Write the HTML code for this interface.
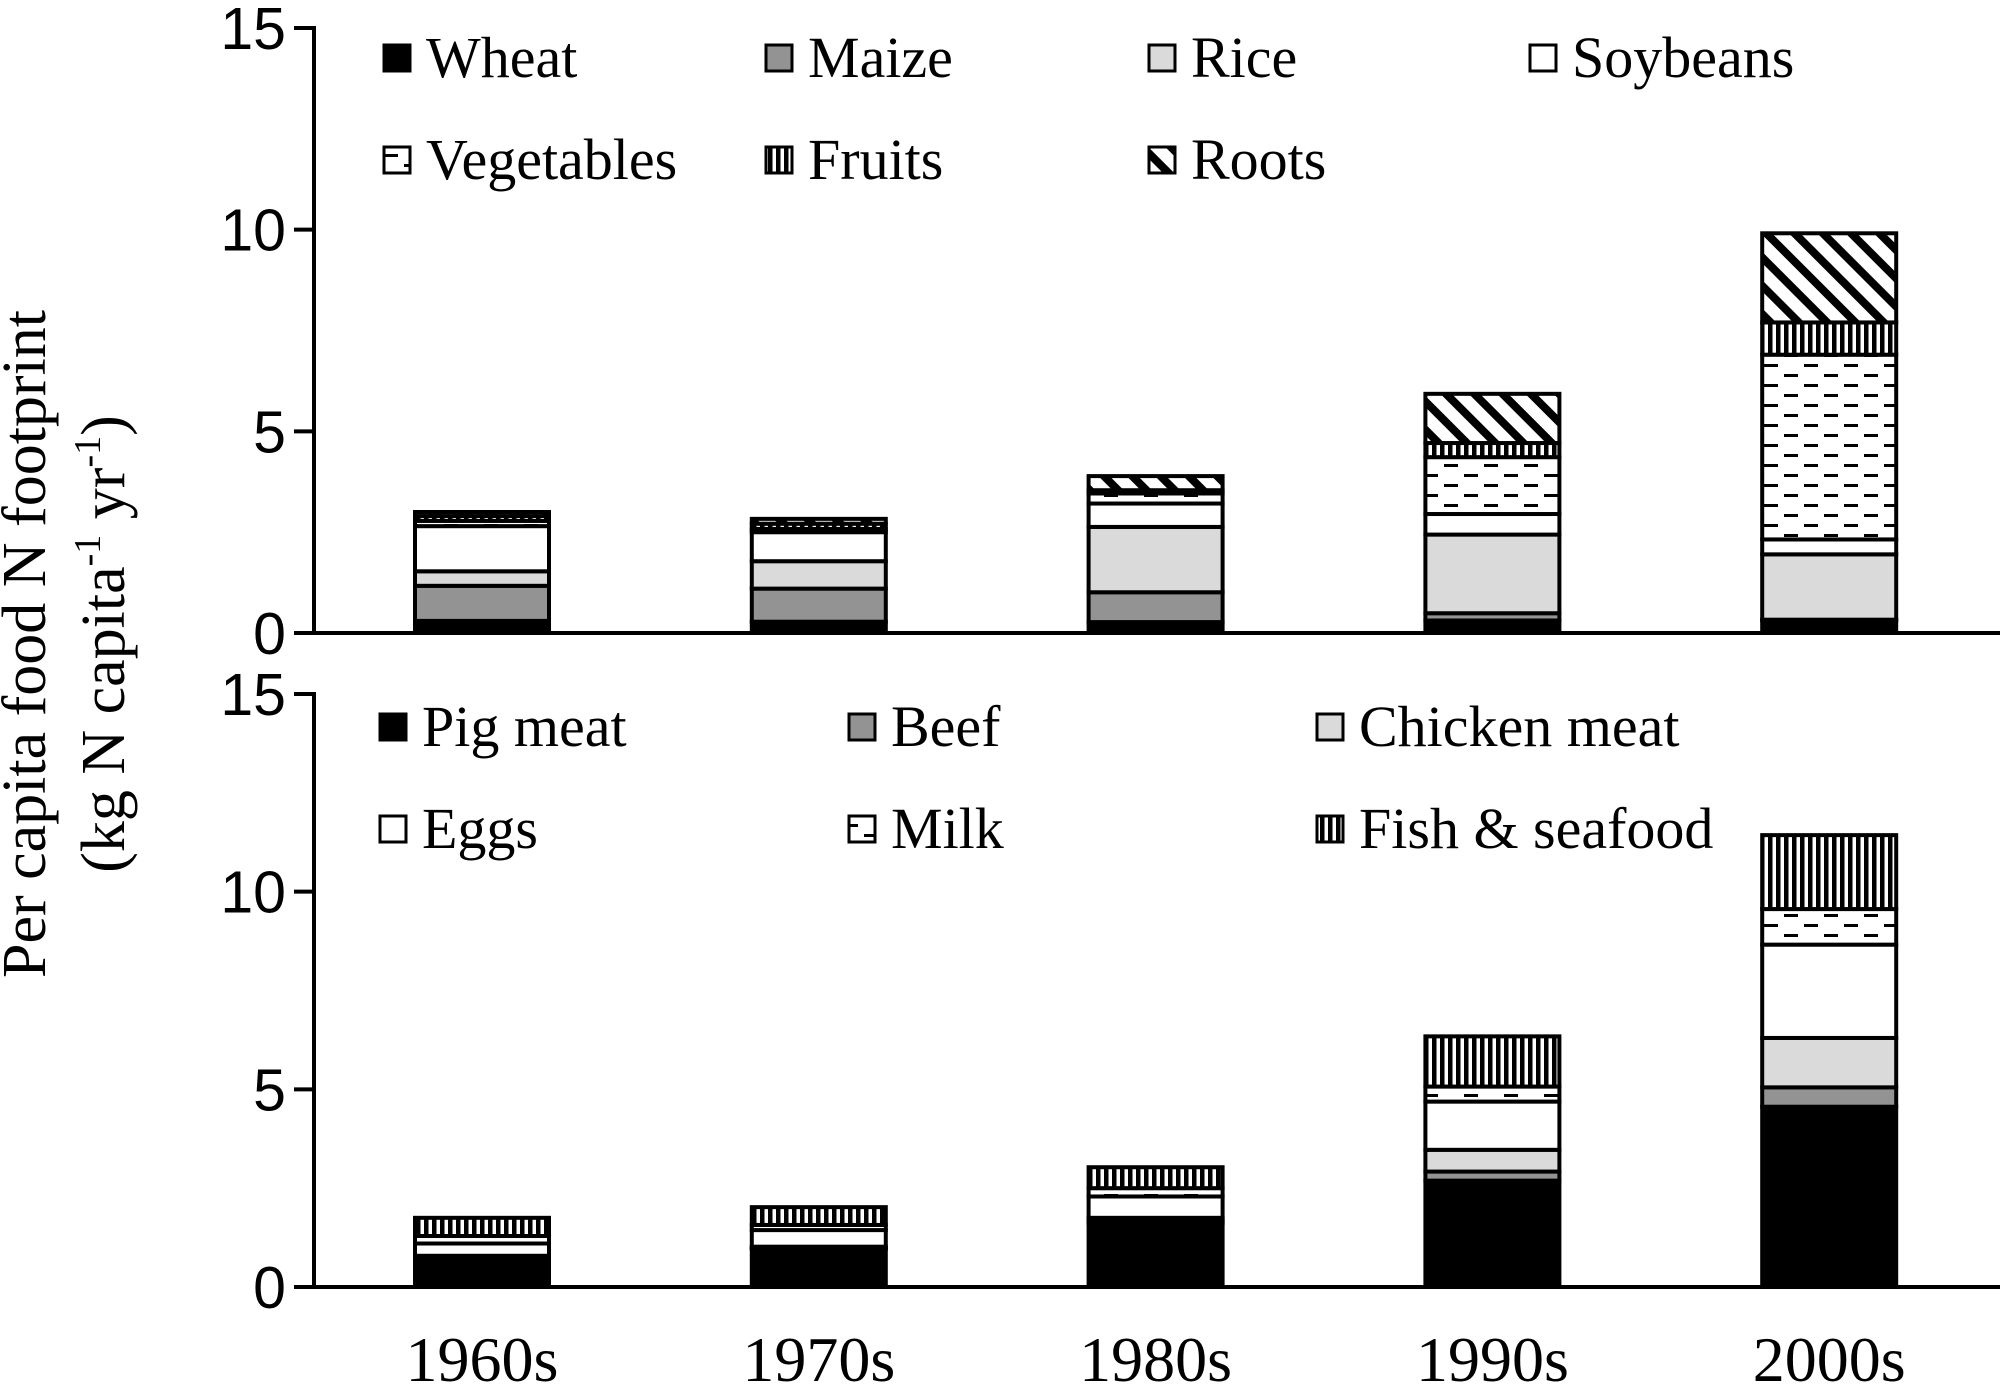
<!DOCTYPE html>
<html><head><meta charset="utf-8"><style>
html,body{margin:0;padding:0;background:#fff;}
svg{display:block;}
.tick{font-family:"Liberation Sans",sans-serif;font-size:59px;}
.ser{font-family:"Liberation Serif",serif;}
</style></head><body>
<svg id="chart" width="2000" height="1389" viewBox="0 0 2000 1389" xmlns="http://www.w3.org/2000/svg">
<defs>
<pattern id="p-dash" patternUnits="userSpaceOnUse" width="40" height="20"><rect width="40" height="20" fill="#fff"/><rect x="4" y="4" width="14" height="3" fill="#000"/><rect x="24" y="14" width="14" height="3" fill="#000"/></pattern>
<pattern id="p-vert" patternUnits="userSpaceOnUse" width="8" height="10"><rect width="8" height="10" fill="#fff"/><rect x="0" y="0" width="4.5" height="10" fill="#000"/></pattern>
<pattern id="p-diag" patternUnits="userSpaceOnUse" width="20" height="20" patternTransform="rotate(-45)"><rect width="20" height="20" fill="#fff"/><rect x="0" y="0" width="8" height="20" fill="#000"/></pattern>
</defs>
<g id="top"></g>
<g id="bottom"></g>
<g class="ser" font-size="62">
<text transform="translate(45,644) rotate(-90)" text-anchor="middle">Per capita food N footprint</text>
<text transform="translate(124,644) rotate(-90)" text-anchor="middle">(kg N capita<tspan font-size="38" dy="-24">-1</tspan><tspan dy="24"> yr</tspan><tspan font-size="38" dy="-24">-1</tspan><tspan dy="24">)</tspan></text>
</g>
</svg>
<script>
const categories = ["1960s","1970s","1980s","1990s","2000s"];
const yTicks = [0,5,10,15];
const cropNames = ["Wheat","Maize","Rice","Soybeans","Vegetables","Fruits","Roots"];
const wheat = [0.30,0.28,0.27,0.31,0.31];
const maize = [0.87,0.82,0.74,0.18,0.02];
const rice = [0.36,0.68,1.62,1.95,1.62];
const soybeans = [1.12,0.72,0.58,0.51,0.37];
const vegetables = [0.13,0.08,0.25,1.41,4.58];
const fruits = [0.12,0.13,0.08,0.35,0.80];
const roots = [0.10,0.12,0.35,1.22,2.21];
const animalNames = ["Pig meat","Beef","Chicken meat","Eggs","Milk","Fish & seafood"];
const pigMeat = [0.76,0.97,1.62,2.69,4.56];
const beef = [0.01,0.01,0.05,0.23,0.49];
const chickenMeat = [0.02,0.04,0.08,0.55,1.25];
const eggs = [0.31,0.42,0.54,1.22,2.36];
const milk = [0.19,0.13,0.21,0.38,0.90];
const fishSeafood = [0.46,0.45,0.53,1.27,1.87];

const cropSeries = [wheat,maize,rice,soybeans,vegetables,fruits,roots];
const cropFills = ["#000","#939393","#dadada","#fff","url(#p-dash)","url(#p-vert)","url(#p-diag)"];
const animalSeries = [pigMeat,beef,chickenMeat,eggs,milk,fishSeafood];
const animalFills = ["#000","#939393","#dadada","#fff","url(#p-dash)","url(#p-vert)"];

const NS = "http://www.w3.org/2000/svg";
function mk(tag, attrs, parent){const e=document.createElementNS(NS,tag);for(const k in attrs)e.setAttribute(k,attrs[k]);parent.appendChild(e);return e;}
const axisX0 = 314, axisX1 = 2000;
function xCenter(i){return 482 + i*336.8;}
const barW = 134;

function panel(g, y0, y15, series, fills, names, legendPos, tag){
  const y = v => y0 - v*(y0-y15)/15;
  categories.forEach((c,i)=>{
    let acc=0;
    series.forEach((s,k)=>{
      const v=s[i]; if(v<=0) return;
      const r=mk('rect',{x:xCenter(i)-barW/2,y:y(acc+v),width:barW,height:y(acc)-y(acc+v),fill:fills[k],stroke:'#000','stroke-width':4},g);
      
      
      acc+=v;
    });
  });
  const ax=mk('line',{x1:axisX0,y1:y0,x2:axisX1,y2:y0,stroke:'#000','stroke-width':4},g);
  
  
  const ay=mk('line',{x1:axisX0,y1:y(15)-2,x2:axisX0,y2:y0,stroke:'#000','stroke-width':4},g);
  
  
  yTicks.forEach(t=>{
    mk('line',{x1:axisX0-20,y1:y(t),x2:axisX0,y2:y(t),stroke:'#000','stroke-width':4},g);
    const tx=mk('text',{x:286,y:y(t)+21,'text-anchor':'end',class:'tick'},g);
    tx.textContent=t;
    
    
  });
  names.forEach((n,k)=>{
    const p=legendPos[k];
    const lg=mk('g',{},g);
    
    
    mk('rect',{x:p[0],y:p[1]-32,width:26,height:26,fill:fills[k],stroke:'#000','stroke-width':3},lg);
    const t=mk('text',{x:p[0]+42,y:p[1],class:'ser','font-size':58},lg);
    t.textContent=n;
  });
}
const topG=document.getElementById('top'), botG=document.getElementById('bottom');
panel(topG,633,28,cropSeries,cropFills,cropNames,
  [[384,77],[766,77],[1149,77],[1530,77],[384,179],[766,179],[1149,179]],'crop');
panel(botG,1287,694,animalSeries,animalFills,animalNames,
  [[380,746],[849,746],[1317,746],[380,848],[849,848],[1317,848]],'animal');
categories.forEach((c,i)=>{
  const t=mk('text',{x:xCenter(i),y:1381,'text-anchor':'middle',class:'ser','font-size':64},document.getElementById('chart'));
  t.textContent=c;
  
  
});
</script>
</body></html>
